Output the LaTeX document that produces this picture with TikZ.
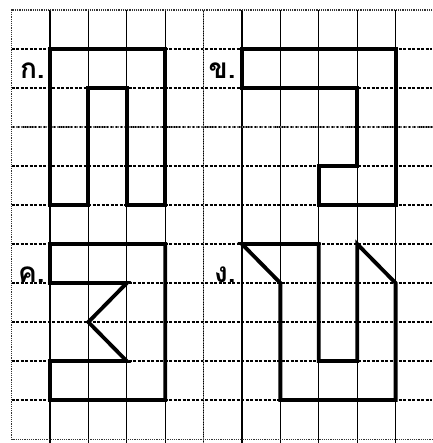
\documentclass[tikz,border=0pt]{standalone}
\usepackage{fontspec}
\newfontfamily\thaifont[Script=Thai]{Loma}
\usepackage{tikz}
\usetikzlibrary{positioning}

\begin{document}
\begin{tikzpicture}[
  x=38.4pt,
  y=-39pt,
  gridv/.style={line width=1.2pt, black},
  gridh/.style={line width=1.2pt, black, dash pattern=on 3pt off 1.5pt},
  fold/.style={line width=1.4pt, black!55, densely dotted},
  border/.style={line width=1.2pt, black!80, densely dotted},
  figline/.style={line width=3.8pt, line join=miter, line cap=rect},
  choice/.style={
    anchor=base east,
    inner sep=0pt,
    font=\thaifont\bfseries\fontsize{28}{28}\selectfont
  }
]
\useasboundingbox (-0.3,-0.256) rectangle (10.95,11.1);
% grid
\foreach \c in {1,...,10}
  \draw[gridv] (\c,0) -- (\c,11.1);
\foreach \r in {1,...,10}
  \draw[gridh] (0,\r) -- (10.95,\r);
\draw[fold] (5,0) -- (5,11.1);
\draw[fold] (0,3) -- (10.95,3);
\draw[border] (10.95,0) -- (0,0) -- (0,11) -- (10.95,11);
% the four figures
\draw[figline] (1,5) -- (1,1) -- (4,1) -- (4,5) -- (3,5) -- (3,2) -- (2,2) -- (2,5) -- cycle;
\draw[figline] (6,1) -- (10,1) -- (10,5) -- (8,5) -- (8,4) -- (9,4) -- (9,2) -- (6,2) -- cycle;
\draw[figline] (1,6) -- (4,6) -- (4,10) -- (1,10) -- (1,9) -- (3,9) -- (2,8) -- (3,7) -- (1,7) -- cycle;
\draw[figline] (6,6) -- (8,6) -- (8,9) -- (9,9) -- (9,6) -- (10,7) -- (10,10) -- (7,10) -- (7,7) -- cycle;
% labels
\node[choice] (ka) at (0.87,1.76) {ก.};
\node[choice] (kho) at (5.84,1.76) {ข.};
\node[choice] (kho2) at (0.87,6.98) {ค.};
\node[choice] (ngo) at (5.84,6.98) {ง.};
\end{tikzpicture}
\end{document}
